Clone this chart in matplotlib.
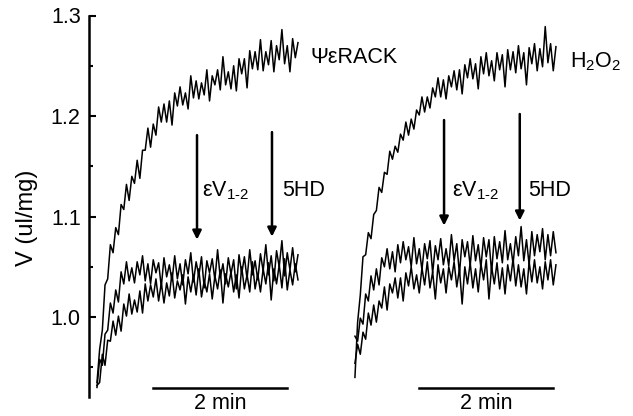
import numpy as np
import matplotlib
matplotlib.use("Agg")
import matplotlib.pyplot as plt

# volume traces, one sample every 0.04 min
t = np.linspace(0, 3.0, 76)

# left panel: psi-eRACK, then eV1-2 and 5HD
rack = [0.935, 0.968, 0.987, 1.032, 1.038, 1.072, 1.064, 1.089, 1.082, 1.112,
        1.107, 1.132, 1.116, 1.140, 1.133, 1.156, 1.138, 1.166, 1.166, 1.188,
        1.169, 1.192, 1.181, 1.209, 1.194, 1.212, 1.194, 1.215, 1.191, 1.223,
        1.210, 1.229, 1.211, 1.223, 1.207, 1.240, 1.218, 1.235, 1.217, 1.233,
        1.221, 1.246, 1.215, 1.240, 1.231, 1.246, 1.226, 1.259, 1.231, 1.244,
        1.227, 1.250, 1.225, 1.257, 1.242, 1.257, 1.228, 1.265, 1.247, 1.264,
        1.246, 1.276, 1.245, 1.264, 1.251, 1.275, 1.244, 1.270, 1.256, 1.286,
        1.252, 1.270, 1.244, 1.277, 1.258, 1.273]
rack_ev = [0.930, 0.958, 0.952, 0.983, 0.987, 1.014, 1.004, 1.027, 1.015, 1.045,
           1.033, 1.055, 1.036, 1.049, 1.034, 1.055, 1.042, 1.061, 1.036, 1.053,
           1.033, 1.057, 1.044, 1.054, 1.030, 1.059, 1.040, 1.052, 1.036, 1.061,
           1.038, 1.053, 1.032, 1.057, 1.043, 1.064, 1.035, 1.055, 1.041, 1.060,
           1.029, 1.056, 1.044, 1.058, 1.037, 1.067, 1.039, 1.053, 1.033, 1.059,
           1.043, 1.057, 1.028, 1.062, 1.043, 1.060, 1.038, 1.067, 1.042, 1.056,
           1.037, 1.063, 1.046, 1.072, 1.042, 1.061, 1.036, 1.066, 1.050, 1.076,
           1.041, 1.064, 1.047, 1.069, 1.045, 1.062]
rack_5hd = [0.932, 0.935, 0.963, 0.952, 0.977, 0.976, 0.996, 0.982, 1.001, 0.986,
            1.013, 1.001, 1.023, 1.003, 1.017, 1.005, 1.026, 1.004, 1.033, 1.016,
            1.032, 1.020, 1.038, 1.016, 1.034, 1.014, 1.034, 1.021, 1.044, 1.019,
            1.036, 1.027, 1.042, 1.013, 1.040, 1.025, 1.042, 1.022, 1.048, 1.020,
            1.036, 1.025, 1.043, 1.018, 1.041, 1.028, 1.047, 1.014, 1.043, 1.030,
            1.045, 1.025, 1.042, 1.019, 1.050, 1.028, 1.042, 1.025, 1.055, 1.028,
            1.043, 1.025, 1.048, 1.033, 1.054, 1.017, 1.048, 1.033, 1.052, 1.029,
            1.058, 1.027, 1.047, 1.032, 1.053, 1.037]

# right panel: H2O2, then eV1-2 and 5HD
h2o2 = [0.940, 0.995, 1.022, 1.060, 1.062, 1.084, 1.078, 1.102, 1.106, 1.129,
        1.124, 1.144, 1.142, 1.165, 1.157, 1.170, 1.164, 1.182, 1.176, 1.194,
        1.181, 1.197, 1.187, 1.206, 1.201, 1.219, 1.204, 1.219, 1.208, 1.228,
        1.219, 1.238, 1.219, 1.236, 1.217, 1.240, 1.229, 1.245, 1.226, 1.246,
        1.222, 1.251, 1.238, 1.257, 1.237, 1.252, 1.227, 1.259, 1.242, 1.263,
        1.240, 1.255, 1.235, 1.263, 1.246, 1.261, 1.229, 1.266, 1.246, 1.264,
        1.243, 1.270, 1.247, 1.263, 1.231, 1.268, 1.252, 1.272, 1.245, 1.267,
        1.249, 1.289, 1.253, 1.272, 1.245, 1.269]
h2o2_ev = [0.981, 0.976, 0.999, 0.993, 1.023, 1.016, 1.041, 1.027, 1.048, 1.032,
           1.059, 1.050, 1.068, 1.048, 1.065, 1.045, 1.072, 1.054, 1.075, 1.057,
           1.070, 1.050, 1.079, 1.053, 1.068, 1.047, 1.073, 1.058, 1.076, 1.044,
           1.071, 1.057, 1.078, 1.052, 1.068, 1.051, 1.082, 1.056, 1.073, 1.043,
           1.077, 1.060, 1.075, 1.051, 1.081, 1.056, 1.072, 1.049, 1.079, 1.060,
           1.077, 1.044, 1.080, 1.058, 1.075, 1.054, 1.086, 1.057, 1.073, 1.053,
           1.080, 1.061, 1.090, 1.056, 1.077, 1.052, 1.085, 1.061, 1.082, 1.065,
           1.088, 1.057, 1.082, 1.061, 1.085, 1.064]
h2o2_5hd = [0.954, 0.973, 0.963, 0.985, 0.978, 1.004, 0.992, 1.012, 0.995, 1.016,
            1.009, 1.030, 1.007, 1.033, 1.024, 1.039, 1.019, 1.039, 1.016, 1.044,
            1.031, 1.050, 1.028, 1.042, 1.024, 1.049, 1.032, 1.055, 1.029, 1.045,
            1.018, 1.052, 1.034, 1.048, 1.024, 1.050, 1.037, 1.055, 1.030, 1.048,
            1.013, 1.050, 1.033, 1.054, 1.029, 1.048, 1.025, 1.053, 1.037, 1.057,
            1.018, 1.050, 1.033, 1.054, 1.028, 1.049, 1.023, 1.052, 1.036, 1.058,
            1.031, 1.052, 1.030, 1.048, 1.023, 1.055, 1.035, 1.057, 1.034, 1.050,
            1.028, 1.055, 1.037, 1.057, 1.032, 1.052]

right_start = 3.85  # min, where the second set of traces is drawn

plt.rcParams['font.family'] = ['Liberation Sans', 'DejaVu Sans']
plt.rcParams['mathtext.fontset'] = 'custom'
plt.rcParams['mathtext.rm'] = 'Liberation Sans'
plt.rcParams['mathtext.it'] = 'Liberation Sans'

fig = plt.figure(figsize=(6.33, 4.16), dpi=100)
ax = fig.add_axes([89 / 633, 19 / 416, 544 / 633, 381.5 / 416])

for y in (rack, rack_ev, rack_5hd):
    ax.plot(t, y, color='black', lw=1.1)
for y in (h2o2, h2o2_ev, h2o2_5hd):
    ax.plot(t + right_start, y, color='black', lw=1.1)

ax.set_xlim(-0.119, 8.0)
ax.set_ylim(0.9205, 1.3)
ax.set_yticks([1.0, 1.1, 1.2, 1.3])
ax.set_yticklabels(['1.0', '1.1', '1.2', '1.3'], fontsize=15.5)
ax.set_yticks([0.95, 1.05, 1.15, 1.25], minor=True)
ax.tick_params(axis='y', which='major', direction='in', length=5, width=1.5, pad=6)
ax.tick_params(axis='y', which='minor', direction='in', length=3, width=1.5)
ax.set_xticks([])
for s in ('top', 'right', 'bottom'):
    ax.spines[s].set_visible(False)
ax.spines['left'].set_linewidth(1.8)
ax.set_ylabel('V (ul/mg)', fontsize=17)
ax.yaxis.set_label_coords(-0.094, 0.47)

# arrows marking the additions
arrows = [(1.493, 1.181, 1.077), (2.612, 1.184, 1.080),
          (5.18, 1.196, 1.091), (6.31, 1.202, 1.096)]
for x, y0, y1 in arrows:
    ax.annotate('', xy=(x, y1), xytext=(x, y0),
                arrowprops=dict(arrowstyle='-|>', lw=1.8, color='black',
                                mutation_scale=13, shrinkA=0, shrinkB=0))

txt = dict(fontsize=15.5, va='center', ha='left')
ax.text(3.18, 1.258, 'ΨεRACK', **txt)
ax.text(7.06, 1.254, r'$\mathrm{H_2O_2}$', **txt)
ax.text(1.567, 1.126, r'$\mathrm{\varepsilon V_{1\text{-}2}}$', **txt)
ax.text(2.76, 1.126, '5HD', **txt)
ax.text(5.30, 1.126, r'$\mathrm{\varepsilon V_{1\text{-}2}}$', **txt)
ax.text(6.43, 1.126, '5HD', **txt)

# 2 min scale bars
for x0 in (0.836, 4.81):
    ax.plot([x0, x0 + 2.0], [0.9295, 0.9295], color='black', lw=1.8, clip_on=False)
    ax.text(x0 + 1.0, 0.9145, '2 min', fontsize=15.5, ha='center', va='center',
            clip_on=False)

fig.savefig('out.png', dpi=100)
